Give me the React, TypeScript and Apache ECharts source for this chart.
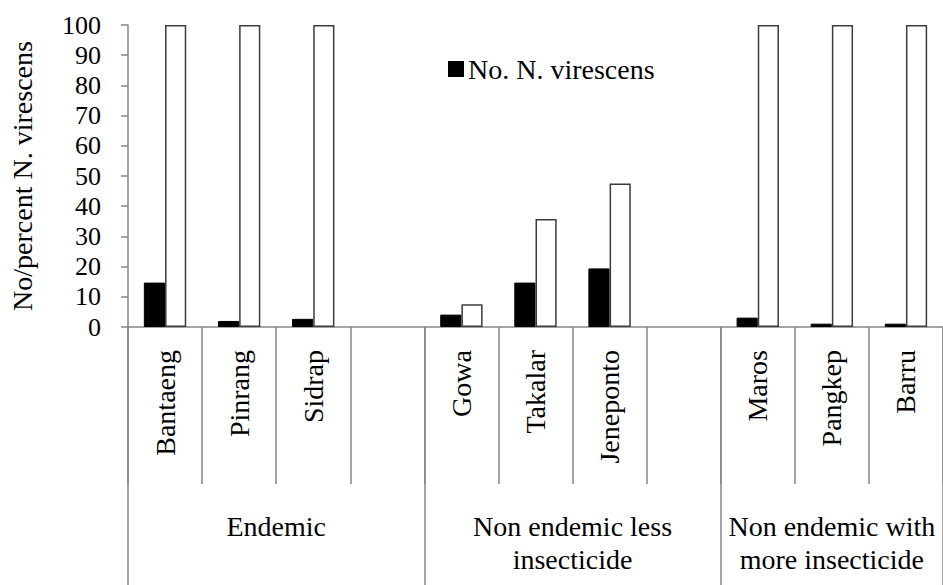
import React, { useEffect, useRef } from "react";
import * as echarts from "echarts";

const categories = ["Bantaeng", "Pinrang", "Sidrap", " ", "Gowa", "Takalar", "Jeneponto", "  ", "Maros", "Pangkep", "Barru"];
const countValues: (number | null)[] = [14.7, 2, 2.7, null, 4.1, 14.7, 19.4, null, 3.1, 1.1, 1.1];
const percentValues: (number | null)[] = [100, 100, 100, null, 7.5, 35.8, 47.5, null, 100, 100, 100];
const groupLabels = ["Endemic", "Non endemic less\ninsecticide", "Non endemic with\nmore insecticide"];
// first and last category index of each group
const groupSpans = [[0, 3], [4, 7], [8, 10]];
const groupBoundaryTicks = [0, 4, 8, 11];
const yTicks = { min: 0, max: 100, interval: 10 };

const FONT = "Times New Roman, Liberation Serif, DejaVu Serif, serif";

export default function App() {
  const ref = useRef<HTMLDivElement>(null);
  useEffect(() => {
    if (!ref.current) return;
    const chart = echarts.init(ref.current, null, { renderer: "svg" });
    const axisGray = "#868686";
    chart.setOption({
      animation: false,
      backgroundColor: "#fff",
      textStyle: { fontFamily: FONT },
      grid: { left: 126, top: 25, right: -4, bottom: 258 },
      legend: {
        data: ["No. N. virescens"],
        left: 443,
        top: 50,
        icon: "rect",
        itemWidth: 14,
        itemHeight: 14,
        textStyle: { fontFamily: FONT, fontSize: 28, color: "#000" },
      },
      xAxis: [
        {
          type: "category",
          data: categories,
          axisLine: { lineStyle: { color: axisGray, width: 1.5 } },
          axisTick: { show: true, interval: 0, length: 157, lineStyle: { color: axisGray, width: 1.5 } },
          axisLabel: {
            interval: 0,
            rotate: 90,
            margin: 23,
            fontFamily: FONT,
            fontSize: 28,
            color: "#000",
          },
        },
        {
          type: "category",
          data: categories,
          position: "bottom",
          axisLine: { show: false },
          axisTick: {
            show: true,
            interval: (i: number) => groupBoundaryTicks.indexOf(i) >= 0,
            length: 260,
            lineStyle: { color: axisGray, width: 1.5 },
          },
          axisLabel: { show: false },
        },
      ],
      yAxis: {
        type: "value",
        min: yTicks.min,
        max: yTicks.max,
        interval: yTicks.interval,
        name: "No/percent N. virescens",
        nameLocation: "middle",
        nameRotate: 90,
        nameGap: 92,
        nameTextStyle: { fontFamily: FONT, fontSize: 28, color: "#000" },
        axisLine: { show: true, lineStyle: { color: axisGray, width: 1.5 } },
        axisTick: { show: true, length: 7, lineStyle: { color: axisGray, width: 1.5 } },
        splitLine: { show: false },
        axisLabel: { margin: 27, fontFamily: FONT, fontSize: 26, color: "#000" },
      },
      series: [
        {
          name: "No. N. virescens",
          type: "bar",
          data: countValues,
          barGap: "0%",
          barCategoryGap: "42.8%",
          itemStyle: { color: "#000", borderColor: "#000", borderWidth: 1 },
        },
        {
          name: "Percent N. virescens",
          type: "bar",
          data: percentValues,
          barGap: "0%",
          barCategoryGap: "42.8%",
          itemStyle: { color: "#fff", borderColor: "#3c3c3c", borderWidth: 1.5 },
        },
      ],
    });

    const elements = groupLabels.map((label, gi) => {
      const [a, b] = groupSpans[gi];
      const xa = chart.convertToPixel({ xAxisIndex: 0 }, a) as number;
      const xb = chart.convertToPixel({ xAxisIndex: 0 }, b) as number;
      return {
        type: "text",
        x: (xa + xb) / 2,
        y: 510,
        style: {
          text: label,
          textAlign: "center",
          textVerticalAlign: "top",
          fontFamily: FONT,
          fontSize: 28,
          lineHeight: 33,
          fill: "#000",
        },
      };
    });
    chart.setOption({ graphic: elements });

    return () => chart.dispose();
  }, []);
  return <div ref={ref} style={{ position: "fixed", left: 0, top: 0, width: 943, height: 585 }} />;
}
